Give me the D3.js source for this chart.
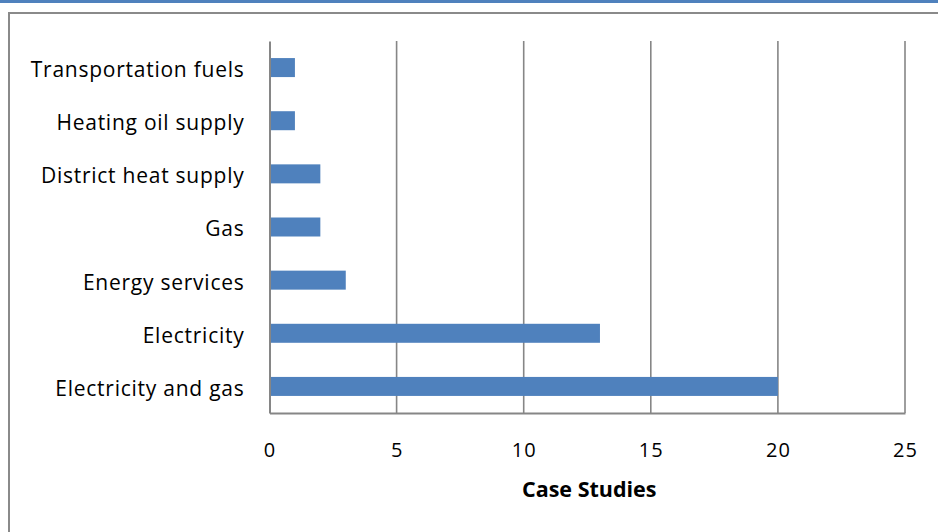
<!DOCTYPE html>
<html>
<head>
<meta charset="utf-8">
<script src="https://cdn.jsdelivr.net/npm/d3@7"></script>
<style>
  html, body { margin: 0; padding: 0; background: #fff; }
  svg { display: block; }
</style>
</head>
<body>
<svg id="chart" width="938" height="532"></svg>
<script>
// Number of case studies per energy sector (top to bottom)
const categories = [
  "Transportation fuels",
  "Heating oil supply",
  "District heat supply",
  "Gas",
  "Energy services",
  "Electricity",
  "Electricity and gas"
];
const caseCounts = [1, 1, 2, 2, 3, 13, 20];
const xTicks = [0, 5, 10, 15, 20, 25];
const xTitle = "Case Studies";

const svg = d3.select("#chart");
const W = 938, H = 532;
const plot = { left: 269.5, right: 905, top: 41, bottom: 413 };
const barColor = "#4f81bd";
const gridColor = "#868686";
const font = "'Open Sans', 'Noto Sans', sans-serif";

// Outer frame and accent strip
svg.append("rect").attr("x", 0).attr("y", 0).attr("width", W).attr("height", 3)
  .attr("fill", barColor);
svg.append("rect").attr("x", 9).attr("y", 13).attr("width", W + 20).attr("height", H + 20)
  .attr("fill", "none").attr("stroke", "#8a8a8a").attr("stroke-width", 2);

const x = d3.scaleLinear().domain([0, 25]).range([plot.left, plot.right]);
const y = d3.scaleBand().domain(categories).range([plot.top, plot.bottom])
  .paddingInner(0.6425).paddingOuter(0.6425 / 2);

// Vertical gridlines
svg.append("g").selectAll("line").data(xTicks.slice(1)).join("line")
  .attr("x1", d => x(d)).attr("x2", d => x(d))
  .attr("y1", plot.top).attr("y2", plot.bottom)
  .attr("stroke", gridColor).attr("stroke-width", 1.6);

// Bars
svg.append("g").selectAll("rect").data(categories).join("rect")
  .attr("x", x(0))
  .attr("y", d => y(d))
  .attr("width", (d, i) => x(caseCounts[i]) - x(0))
  .attr("height", y.bandwidth())
  .attr("fill", barColor);

// Value axis (bottom)
const xAxis = svg.append("g").attr("transform", `translate(0,${plot.bottom})`)
  .call(d3.axisBottom(x).tickValues(xTicks).tickSize(0).tickPadding(30));
xAxis.select(".domain").attr("stroke", gridColor).attr("stroke-width", 2);
xAxis.selectAll("text")
  .attr("font-family", font).attr("font-size", 20).attr("fill", "#000")
  .attr("letter-spacing", 1);

// Category axis (left)
const yAxis = svg.append("g").attr("transform", `translate(${plot.left},0)`)
  .call(d3.axisLeft(y).tickSize(0).tickPadding(25));
yAxis.select(".domain").attr("stroke", gridColor).attr("stroke-width", 2);
yAxis.selectAll("text")
  .attr("font-family", font).attr("font-size", 21).attr("fill", "#000")
  .attr("letter-spacing", 0.75)
  .attr("dy", "0.45em");

// Axis title
svg.append("text")
  .attr("x", (plot.left + plot.right) / 2 + 2)
  .attr("y", 497)
  .attr("text-anchor", "middle")
  .attr("font-family", font).attr("font-size", 21.5).attr("font-weight", "bold")
  .attr("fill", "#000")
  .text(xTitle);
</script>
</body>
</html>
